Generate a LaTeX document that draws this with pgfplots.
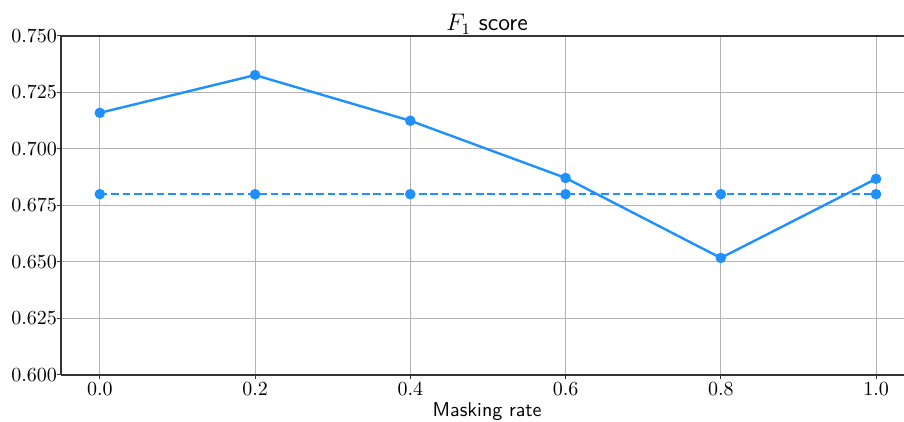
\documentclass[border=0pt]{standalone}
\usepackage{pgfplots}
\pgfplotsset{compat=1.18}
\definecolor{dodger}{RGB}{30,144,255}
\definecolor{gridgray}{RGB}{180,180,180}
\begin{document}
\begin{tikzpicture}
\begin{axis}[
  scale only axis,
  width=421.5pt, height=169.5pt,
  xmin=-0.05, xmax=1.036,
  ymin=0.6, ymax=0.75,
  axis x line*=box,
  axis y line*=left,
  axis line style={black!80, line width=0.6pt},
  xtick={0,0.2,0.4,0.6,0.8,1.0},
  ytick={0.6,0.625,0.65,0.675,0.7,0.725,0.75},
  xtick pos=bottom, ytick pos=left,
  tick align=outside,
  major tick length=2pt,
  every tick/.style={black!80, line width=0.5pt},
  xticklabel style={yshift=1.5pt, /pgf/number format/.cd, fixed, fixed zerofill, precision=1},
  yticklabel style={xshift=3.5pt, /pgf/number format/.cd, fixed, fixed zerofill, precision=3},
  scaled y ticks=false,
  ticklabel style={font=\fontsize{10.3}{12}\selectfont},
  grid=major,
  major grid style={gridgray, line width=0.5pt},
  clip=false,
]
\addplot[dodger, line width=1.2pt, mark=*, mark size=2pt, mark options={solid, fill=dodger}]
  coordinates {(0.0,0.7160) (0.2,0.7327) (0.4,0.7125) (0.6,0.6872) (0.8,0.6518) (1.0,0.6868)};
\addplot[dodger, line width=1.2pt, dash pattern=on 3.8pt off 1.9pt, mark=*, mark size=2pt, mark options={solid, fill=dodger}]
  coordinates {(0.0,0.6800) (0.2,0.6800) (0.4,0.6800) (0.6,0.6800) (0.8,0.6800) (1.0,0.6800)};
\coordinate (sw) at (rel axis cs:0,0);
\coordinate (ne) at (rel axis cs:1,1);
\node[anchor=base, inner sep=0pt, font=\fontsize{12}{14}\selectfont\sffamily] at ([yshift=2.5pt]rel axis cs:0.5055,1) {$F_1$ score};
\node[anchor=base, inner sep=0pt, font=\fontsize{10}{12}\selectfont\sffamily] at ([yshift=-21pt]rel axis cs:0.5055,0) {Masking rate};
\end{axis}
\pgfresetboundingbox
\path[use as bounding box] ([xshift=-30.5pt,yshift=-23.5pt]sw) rectangle ([yshift=18pt]ne);
\end{tikzpicture}
\end{document}
